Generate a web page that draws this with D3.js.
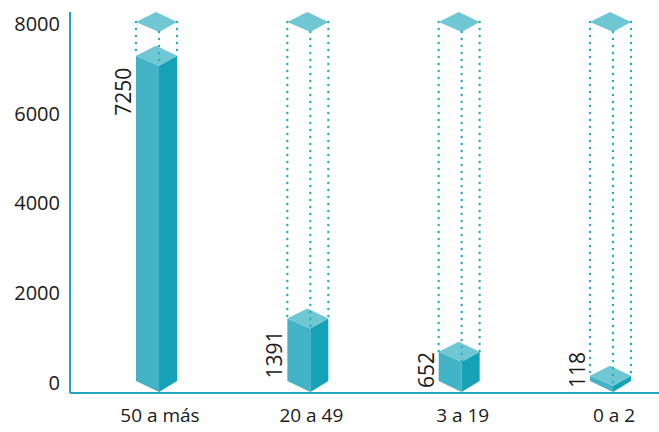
<!DOCTYPE html>
<html>
<head>
<meta charset="utf-8">
<script src="https://cdn.jsdelivr.net/npm/d3@7"></script>
<style>
  html, body { margin: 0; padding: 0; background: #ffffff; }
  svg { display: block; }
  text { font-family: "Open Sans", "Noto Sans", sans-serif; fill: #1a1a1a; }
</style>
</head>
<body>
<svg id="chart" width="659" height="432"></svg>
<script>
// Age groups and their counts
const categories = ["50 a más", "20 a 49", "3 a 19", "0 a 2"];
const values = [7250, 1391, 652, 118];
const yTicks = [0, 2000, 4000, 6000, 8000];
const yMax = 8000;

const W = 659, H = 432;
const svg = d3.select("#chart");

const colors = {
  axis: "#1fa6bd",
  top: "#70c7d4",
  left: "#43b4c7",
  right: "#15a2b6",
  dots: "#25aac0"
};

// x: front edge of each prism; y: level of the side corners of a face
const x = d3.scalePoint().domain(categories).range([159, 613]);
const y = d3.scaleLinear().domain([0, yMax]).range([381, 22]);

const dxL = 23, dxR = 18, dxB = 3, dh = 10;   // prism face geometry
const baseY = 393;

// Axes lines
svg.append("line")
  .attr("x1", 70).attr("x2", 70).attr("y1", 12).attr("y2", baseY)
  .attr("stroke", colors.axis).attr("stroke-width", 2);
svg.append("line")
  .attr("x1", 70).attr("x2", W).attr("y1", baseY).attr("y2", baseY)
  .attr("stroke", colors.axis).attr("stroke-width", 2);

// Y tick labels
const yAxis = d3.axisLeft(y).tickValues(yTicks).tickSize(0).tickPadding(0).tickFormat(d3.format("d"));
const gy = svg.append("g").attr("transform", "translate(60,2)").call(yAxis);
gy.select(".domain").remove();
gy.selectAll("text")
  .attr("font-size", 20)
  .style("font-family", "\"Open Sans\", sans-serif")
  .attr("fill", "#1a1a1a");

const line = d3.line();

function face(pts, fill) {
  return svg.append("path").attr("d", line(pts) + "Z").attr("fill", fill);
}

const g0 = y(0);
const gTop = y(yMax);

categories.forEach((c, i) => {
  const cx = x(c);
  const yt = y(values[i]);

  // Left face
  face([[cx - dxL, yt], [cx, yt + dh], [cx, g0 + dh + 1], [cx - dxL, g0]], colors.left);
  // Right face
  face([[cx, yt + dh], [cx + dxR, yt], [cx + dxR, g0], [cx, g0 + dh + 1]], colors.right);
  // Top face
  face([[cx - dxB, yt - dh], [cx + dxR, yt], [cx, yt + dh], [cx - dxL, yt]], colors.top);

  // Full-scale cap at the maximum
  face([[cx - dxB, gTop - dh], [cx + dxR, gTop], [cx, gTop + dh], [cx - dxL, gTop]], colors.top);

  // Dotted edges of the full-scale prism
  const dotted = [
    [[cx - dxL, gTop], [cx - dxL, yt]],
    [[cx, gTop + dh], [cx, yt + dh]],
    [[cx + dxR, gTop], [cx + dxR, yt]]
  ];
  dotted.forEach(seg => {
    svg.append("path")
      .attr("d", line(seg))
      .attr("stroke", colors.dots)
      .attr("stroke-width", 2.4)
      .attr("stroke-linecap", "round")
      .attr("stroke-dasharray", "0 7")
      .attr("fill", "none");
  });

  // Value label, rotated along the bar
  const lbl = svg.append("text")
    .attr("font-size", 21)
    .attr("text-anchor", "end")
    .text(d3.format("d")(values[i]));
  const len = lbl.node().getComputedTextLength();
  const endY = Math.min(yt + 12, 388 - len);
  lbl.attr("transform", `translate(${cx - dxL - 5},${endY}) rotate(-90)`);

  // Category label
  svg.append("text")
    .attr("x", cx + 1)
    .attr("y", 422)
    .attr("text-anchor", "middle")
    .attr("font-size", 19)
    .text(c);
});
</script>
</body>
</html>
